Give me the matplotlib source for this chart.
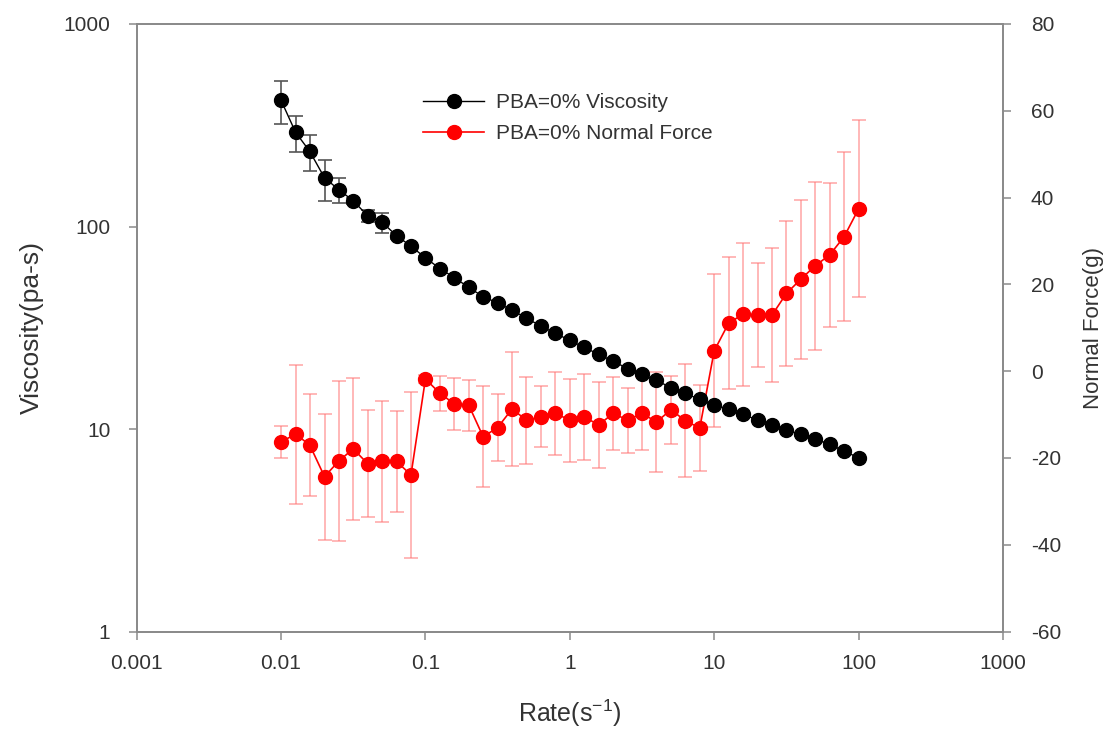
import numpy as np
import matplotlib.pyplot as plt
from matplotlib.ticker import FixedLocator, FixedFormatter, NullLocator

plt.rcParams['font.family'] = ['Liberation Sans', 'DejaVu Sans']

# Shear rate, 10 points per decade from 0.01 to 100 s^-1
rate = [0.01, 0.0126, 0.0158, 0.02, 0.0251, 0.0316, 0.0398, 0.0501, 0.0631, 0.0794,
        0.1, 0.126, 0.158, 0.2, 0.251, 0.316, 0.398, 0.501, 0.631, 0.794,
        1.0, 1.26, 1.58, 2.0, 2.51, 3.16, 3.98, 5.01, 6.31, 7.94,
        10.0, 12.6, 15.8, 20.0, 25.1, 31.6, 39.8, 50.1, 63.1, 79.4, 100.0]

viscosity = [420, 292, 235, 174, 152, 134, 113, 105, 90, 80,
             70, 62, 56, 50, 45, 42, 38.6, 35.3, 32.2, 29.7,
             27.4, 25.3, 23.4, 21.6, 19.9, 18.6, 17.4, 16.0, 15.0, 14.0,
             13.2, 12.5, 11.8, 11.1, 10.5, 9.9, 9.4, 8.9, 8.4, 7.8, 7.2]
viscosity_err = [100, 60, 48, 40, 22, 5, 8, 12, 3, 2,
                 1.5, 1.2, 1, 1, 0.8, 0.8, 0.7, 0.6, 0.6, 0.5,
                 0.5, 0.4, 0.4, 0.4, 0.3, 0.3, 0.3, 0.3, 0.3, 0.2,
                 0.2, 0.2, 0.2, 0.2, 0.2, 0.2, 0.2, 0.2, 0.2, 0.2, 0.2]

normal_force = [-16.3, -14.5, -17.0, -24.3, -20.7, -17.9, -21.3, -20.8, -20.8, -23.9,
                -1.8, -5.1, -7.5, -7.9, -15.1, -13.0, -8.7, -11.3, -10.5, -9.7,
                -11.3, -10.5, -12.4, -9.7, -11.3, -9.7, -11.7, -8.9, -11.4, -13.1,
                4.7, 11.1, 13.1, 12.9, 12.9, 17.9, 21.2, 24.3, 26.8, 31.0, 37.4]
normal_force_err = [3.7, 16.0, 11.7, 14.5, 18.4, 16.4, 12.3, 14.0, 11.7, 19.2,
                    1.0, 4.0, 6.0, 5.8, 11.6, 7.7, 13.2, 10.0, 7.0, 9.5,
                    9.6, 9.9, 9.9, 8.4, 7.5, 8.4, 11.5, 7.8, 13.0, 10.0,
                    17.6, 15.2, 16.5, 12.0, 15.4, 16.6, 18.3, 19.4, 16.6, 19.4, 20.4]

x_ticks = [0.001, 0.01, 0.1, 1, 10, 100, 1000]
x_tick_labels = ['0.001', '0.01', '0.1', '1', '10', '100', '1000']
y_ticks = [1, 10, 100, 1000]
y_tick_labels = ['1', '10', '100', '1000']
force_ticks = [-60, -40, -20, 0, 20, 40, 60, 80]

spine_gray = '#8a8a8a'
text_gray = '#333333'

fig = plt.figure(figsize=(11.11, 7.37), dpi=100)
ax = fig.add_axes([0.123, 0.143, 0.7798, 0.8245])
ax2 = ax.twinx()

ax.set_xscale('log')
ax.set_yscale('log')
ax.set_xlim(0.001, 1000)
ax.set_ylim(1, 1000)
ax2.set_ylim(-60, 80)

# Normal force on the right axis
ax2.errorbar(rate, normal_force, yerr=normal_force_err, fmt='none',
             ecolor=(1.0, 0.45, 0.45, 0.55), elinewidth=1.3, capsize=5, capthick=1.3,
             zorder=1)
l2, = ax2.plot(rate, normal_force, color='red', lw=1.2, marker='o', ms=10,
               mec='red', mfc='red', zorder=2, label='PBA=0% Normal Force')

# Viscosity on the left axis
ax.errorbar(rate, viscosity, yerr=viscosity_err, fmt='none',
            ecolor='#555555', elinewidth=1.2, capsize=5, capthick=1.2, zorder=1)
l1, = ax.plot(rate, viscosity, color='black', lw=1.0, marker='o', ms=10,
              mec='black', mfc='black', zorder=2, label='PBA=0% Viscosity')

ax.set_zorder(ax2.get_zorder() + 1)
ax.patch.set_visible(False)

for a in (ax, ax2):
    for s in a.spines.values():
        s.set_color(spine_gray)
        s.set_linewidth(1.3)

ax.xaxis.set_major_locator(FixedLocator(x_ticks))
ax.xaxis.set_major_formatter(FixedFormatter(x_tick_labels))
ax.xaxis.set_minor_locator(NullLocator())
ax.yaxis.set_major_locator(FixedLocator(y_ticks))
ax.yaxis.set_major_formatter(FixedFormatter(y_tick_labels))
ax.yaxis.set_minor_locator(NullLocator())
ax2.set_yticks(force_ticks)
ax2.set_yticklabels([str(v) for v in force_ticks])

ax.tick_params(axis='both', direction='out', length=6, width=1.1, color=spine_gray,
               labelsize=15, labelcolor=text_gray)
ax.tick_params(axis='x', pad=10)
ax.tick_params(axis='y', pad=13)
ax2.tick_params(axis='y', direction='out', length=6, width=1.1, color=spine_gray,
                labelsize=15, labelcolor=text_gray, pad=14)

ax.set_xlabel('Rate(s$^{\\mathregular{-1}}$)', fontsize=18, color=text_gray, labelpad=18)
ax.set_ylabel('Viscosity(pa-s)', fontsize=19, color=text_gray, labelpad=14)
ax2.set_ylabel('Normal Force(g)', fontsize=16, color=text_gray, labelpad=16)

ax.legend(handles=[l1, l2], loc='center left', bbox_to_anchor=(0.3214, 0.845),
          borderaxespad=0, frameon=False, fontsize=15, handlelength=2.9,
          handletextpad=0.6, labelspacing=0.55, labelcolor=text_gray)

fig.savefig('out.png', dpi=100)
